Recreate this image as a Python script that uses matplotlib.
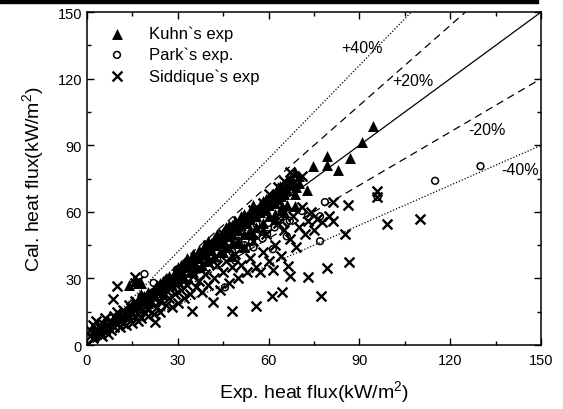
import matplotlib
matplotlib.use("Agg")
import matplotlib.pyplot as plt
from matplotlib.patches import Rectangle
import numpy as np

plt.rcParams['font.family'] = ['Liberation Sans', 'DejaVu Sans']
plt.rcParams['mathtext.fontset'] = 'custom'
plt.rcParams['mathtext.rm'] = 'Liberation Sans'

# ---------------- data ----------------
kuhn_x = [2, 3, 4, 5, 6, 7, 8, 9, 10, 11, 12, 13, 14, 15, 16, 17, 18, 18, 19, 20,
          21, 22, 23, 24, 25, 26, 27, 28, 29, 30, 30, 31, 32, 33, 33, 34, 35, 35, 36, 37,
          37, 38, 39, 39, 40, 40, 41, 41, 42, 42, 43, 43, 44, 44, 45, 45, 46, 46, 47, 47,
          48, 48, 49, 49, 50, 50, 51, 51, 52, 52, 53, 53, 54, 54, 55, 55, 56, 56, 57, 57,
          58, 58, 59, 59, 60, 60, 61, 61, 62, 62, 63, 63, 64, 64, 65, 65, 66, 66, 67, 68,
          69, 70, 40, 45, 50, 55, 48, 52, 58, 62, 65, 35, 30, 25, 20, 16, 17, 18, 14,
          32, 34, 36, 38, 40, 42, 44, 46, 48, 50, 52, 54, 56, 58, 60, 62, 64, 66,
          31, 35, 39, 43, 47, 51, 55, 59, 63, 67, 28, 26, 24, 22,
          63.7, 68.7, 66, 70, 72.6, 68.7, 64.4, 68.7, 64.4,
          74.7, 79.2, 79.2, 83, 86.9, 90.8, 94.5]
kuhn_y = [6, 5, 7, 8, 9, 8, 10, 11, 12, 13, 13, 15, 16, 17, 18, 19, 20, 23, 22, 24,
          23, 25, 27, 26, 29, 28, 31, 30, 33, 32, 35, 34, 37, 35, 39, 38, 41, 37, 40, 43,
          39, 42, 45, 41, 44, 47, 43, 46, 48, 45, 47, 50, 46, 49, 51, 47, 50, 53, 49, 52,
          54, 50, 53, 56, 52, 55, 57, 54, 56, 59, 55, 58, 60, 57, 59, 62, 58, 61, 63, 60,
          62, 65, 61, 64, 66, 63, 65, 68, 64, 67, 69, 66, 70, 67, 71, 68, 73, 70, 72, 74,
          71, 73, 38, 42, 46, 50, 40, 44, 52, 57, 60, 33, 29, 24, 19, 29, 28, 28, 27,
          30, 33, 35, 36, 39, 40, 42, 44, 46, 47, 50, 52, 53, 55, 58, 59, 61, 63,
          36, 40, 45, 49, 54, 58, 63, 66, 71, 75, 27, 30, 28, 23,
          71.6, 78, 73.4, 76, 70, 68, 68.9, 62.6, 62.6,
          80.6, 85.1, 81, 79, 84.2, 91.4, 98.6]

park_x = [3, 5, 7, 8, 10, 12, 14.9, 18, 20, 22, 25, 27, 29.7, 31, 33, 35, 37, 39, 41, 43,
          45.6, 46, 48, 50, 52, 54, 55, 57, 58, 60, 61.4, 62, 64, 66, 67, 68, 71, 73, 77,
          78.6, 96, 115, 130, 49, 54.5, 59.5, 64.7, 56, 19, 22, 29.7, 66, 77]
park_y = [6, 8, 9, 12, 13, 14, 18.5, 22, 20, 24, 23, 28, 34, 30, 33, 36, 34, 38, 40, 39,
          26, 44, 42, 47, 45, 50, 44, 52, 48, 55, 43.2, 53, 58, 49, 56, 60, 60.4, 58, 46.8,
          64.4, 66.7, 74, 80.6, 38, 46.4, 50, 53.6, 54.5, 32, 28, 32, 55.4, 58]

sidd_x = [1, 1, 2, 2, 3, 3, 4, 4, 5, 5, 6, 6, 7, 7, 8, 8, 9, 9, 10, 10,
          11, 11, 12, 12, 13, 13, 14, 14, 15, 15, 16, 16, 17, 17, 18, 18, 19, 19, 20, 20,
          21, 22, 22, 23, 24, 24, 25, 26, 26, 27, 28, 28, 29, 30, 30, 31, 32, 32, 33, 34,
          34.7, 35, 36, 37, 37, 38, 39, 40, 40, 41.6, 42, 43, 44, 45, 46, 47, 47.9, 48, 49, 50,
          51, 52, 53, 54, 55, 56, 56, 57, 58, 59, 60, 61, 61.4, 62, 63, 64.4, 64, 65, 66.4, 67,
          67, 68, 69, 70, 71, 72, 73, 73, 74, 75, 76, 77.2, 77.5, 79.3, 80, 81.2, 81.4, 85.2, 86.3, 86.6,
          95.8, 95.8, 99, 110, 9.9, 15.9, 8.6, 16, 17, 22.5, 67, 71, 65, 63, 60, 58, 55, 50, 45, 40]
sidd_y = [4, 7, 3, 9, 5, 11, 6, 8, 4, 10, 7, 12, 5, 9, 11, 7, 13, 8, 10, 15,
          12, 8, 16, 10, 14, 9, 12, 18, 15, 10, 13, 20, 14, 11, 17, 12, 15, 21, 16, 13,
          19, 14, 21, 17, 20, 15, 22, 18, 25, 21, 17, 26, 23, 19, 28, 25, 21, 30, 27, 23,
          15.3, 31, 26, 29, 35, 24, 32, 27, 37, 19.4, 30, 36, 25, 33, 38, 28, 15.3, 35, 41, 30,
          36, 44, 33, 39, 47, 17.6, 35, 33, 42, 50, 38, 22, 34, 45, 55, 23.9, 40, 52, 35.6, 31,
          48, 58, 44, 53, 62, 50, 30.6, 56, 60, 52, 57, 22, 55.4, 34.7, 58, 55.9, 64.4, 50, 63, 37.4,
          69.4, 66.7, 54.5, 56.8, 26.6, 30.6, 20.7, 28, 29, 10.4, 78, 76, 74, 71, 68, 64, 61, 56, 50, 45]

ref_ratios = [1.4, 1.2, 1.0, 0.8, 0.6]
ref_styles = [(0, (1, 1.5)), (0, (6, 4)), '-', (0, (6, 4)), (0, (1, 1.5))]
ref_labels = ['+40%', '+20%', '-20%', '-40%']
ref_label_pos = [(91, 134), (107.6, 119), (132, 97), (143, 79)]

# ---------------- figure ----------------
fig = plt.figure(figsize=(5.63, 4.10), dpi=100)
ax = fig.add_axes([0.1545, 0.156, 0.8065, 0.812])

fig.patches.append(Rectangle((0, 1 - 4 / 410), 538 / 563, 4 / 410,
                             transform=fig.transFigure, color='black', zorder=0))

xx = np.array([0, 150])
for r, ls in zip(ref_ratios, ref_styles):
    ax.plot(xx, r * xx, color='black', lw=0.9, ls=ls, zorder=1)

ax.scatter(sidd_x, sidd_y, marker='x', s=50, c='black', linewidths=1.7,
           label='Siddique`s exp', zorder=3)
ax.scatter(park_x, park_y, marker='o', s=24, facecolors='none', edgecolors='black',
           linewidths=1.1, label='Park`s exp.', zorder=3)
ax.scatter(kuhn_x, kuhn_y, marker='^', s=62, c='black', linewidths=0,
           label='Kuhn`s exp', zorder=4)

for t, (px, py) in zip(ref_labels, ref_label_pos):
    ax.text(px, py, t, fontsize=11.5, ha='center', va='center', zorder=5)

ax.set_xlim(0, 150)
ax.set_ylim(0, 150)
ax.set_xticks(np.arange(0, 151, 30))
ax.set_yticks(np.arange(0, 151, 30))
ax.set_xticks(np.arange(15, 150, 30), minor=True)
ax.set_yticks(np.arange(15, 150, 30), minor=True)
ax.tick_params(which='both', direction='in', top=True, right=True, labelsize=10.5)
ax.tick_params(which='major', length=5, width=1)
ax.tick_params(which='minor', length=3, width=1)
ax.tick_params(axis='x', pad=6)
for sp in ax.spines.values():
    sp.set_linewidth(1.1)

ax.set_xlabel('Exp. heat flux(kW/m$^2$)', fontsize=14, labelpad=8)
ax.set_ylabel('Cal. heat flux(kW/m$^2$)', fontsize=14, labelpad=8)

h, l = ax.get_legend_handles_labels()
order = [2, 1, 0]
ax.legend([h[i] for i in order], [l[i] for i in order], loc='upper left',
          frameon=False, fontsize=12, handletextpad=0.9, labelspacing=0.35,
          borderaxespad=0.4, bbox_to_anchor=(0.0, 1.0))

fig.savefig('out.png', dpi=100)
